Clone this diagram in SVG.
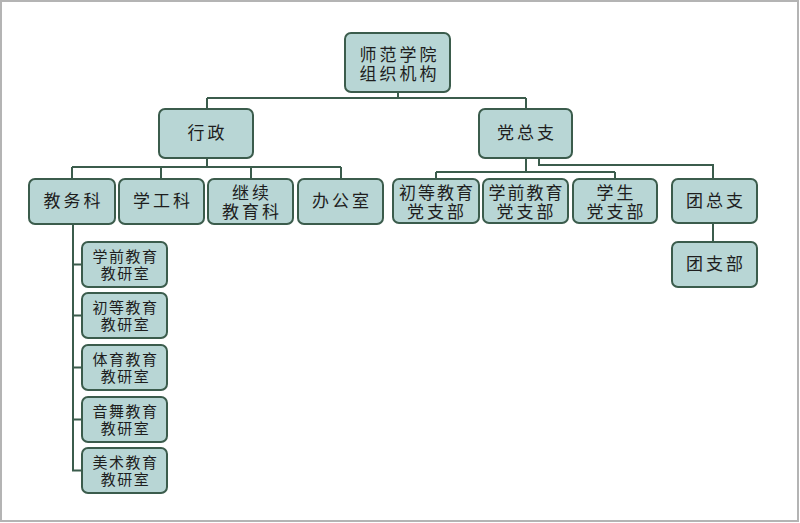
<svg xmlns="http://www.w3.org/2000/svg" width="800" height="523" viewBox="0 0 800 523">
<style>
.n{fill:#b8d6d5;stroke:#3b5c4c;stroke-width:2}
.t{font-family:"Noto Sans CJK SC","Noto Sans CJK JP",sans-serif;font-size:17px;fill:#1e1e1e;text-anchor:middle;letter-spacing:3px}
.s{font-size:15px;letter-spacing:1.5px}
.c{fill:none;stroke:#3b5c4c;stroke-width:2}
</style>
<rect x="0" y="0" width="800" height="523" fill="#fff"/>
<rect x="1" y="1" width="797" height="520" fill="none" stroke="#b4b4b4" stroke-width="2"/>
<g id="connectors" class="c">
<path d="M398 92V98M207 98H526M207 98V109M526 98V109"/>
<path d="M207 158V167M72 167H341M72 167V179M161 167V179M251 167V179M341 167V179"/>
<path d="M526 158V172M436 172H615M436 172V179M615 172V179"/>
<path d="M539 158V165H713V179M713 223V242"/>
<path d="M73 224V470.5H82M73 264.5H82M73 315.5H82M73 367.5H82M73 419.5H82"/>
</g>
<g id="root"><rect class="n" x="345" y="33" width="105" height="59" rx="6"/><text class="t" x="399.5" y="61">师范学院</text><text class="t" x="399.5" y="80">组织机构</text></g>
<g id="xingzheng"><rect class="n" x="159" y="109" width="94" height="49" rx="6"/><text class="t" x="207.5" y="139">行政</text></g>
<g id="dangzongzhi"><rect class="n" x="479" y="109" width="93" height="49" rx="6"/><text class="t" x="527" y="139">党总支</text></g>
<g id="jiaowuke"><rect class="n" x="29" y="179" width="86" height="45" rx="6"/><text class="t" x="73.5" y="207">教务科</text></g>
<g id="xuegongke"><rect class="n" x="119" y="179" width="85" height="45" rx="6"/><text class="t" x="163" y="207">学工科</text></g>
<g id="jixu"><rect class="n" x="208" y="179" width="85" height="45" rx="6"/><text class="t" x="252" y="199">继续</text><text class="t" x="252" y="218">教育科</text></g>
<g id="bangongshi"><rect class="n" x="298" y="179" width="85" height="45" rx="6"/><text class="t" x="342" y="207">办公室</text></g>
<g id="chudeng-dang"><rect class="n" x="393" y="179" width="86" height="44" rx="6"/><text class="t" x="437" y="199" style="letter-spacing:2px">初等教育</text><text class="t" x="437" y="218">党支部</text></g>
<g id="xueqian-dang"><rect class="n" x="483" y="179" width="85" height="44" rx="6"/><text class="t" x="526.5" y="199" style="letter-spacing:2px">学前教育</text><text class="t" x="526.5" y="218">党支部</text></g>
<g id="xuesheng-dang"><rect class="n" x="573" y="179" width="84" height="44" rx="6"/><text class="t" x="616.5" y="199">学生</text><text class="t" x="616.5" y="218">党支部</text></g>
<g id="tuanzongzhi"><rect class="n" x="672" y="179" width="85" height="44" rx="6"/><text class="t" x="716" y="207">团总支</text></g>
<g id="tuanzhibu"><rect class="n" x="672" y="242" width="85" height="45" rx="6"/><text class="t" x="716" y="270">团支部</text></g>
<g id="jys1"><rect class="n" x="82" y="242" width="85" height="45" rx="6"/><text class="t s" x="125.5" y="262">学前教育</text><text class="t s" x="125.5" y="279">教研室</text></g>
<g id="jys2"><rect class="n" x="82" y="293" width="85" height="45" rx="6"/><text class="t s" x="125.5" y="313">初等教育</text><text class="t s" x="125.5" y="330">教研室</text></g>
<g id="jys3"><rect class="n" x="82" y="345" width="85" height="45" rx="6"/><text class="t s" x="125.5" y="365">体育教育</text><text class="t s" x="125.5" y="382">教研室</text></g>
<g id="jys4"><rect class="n" x="82" y="397" width="85" height="45" rx="6"/><text class="t s" x="125.5" y="417">音舞教育</text><text class="t s" x="125.5" y="434">教研室</text></g>
<g id="jys5"><rect class="n" x="82" y="448" width="85" height="45" rx="6"/><text class="t s" x="125.5" y="468">美术教育</text><text class="t s" x="125.5" y="485">教研室</text></g>
</svg>
